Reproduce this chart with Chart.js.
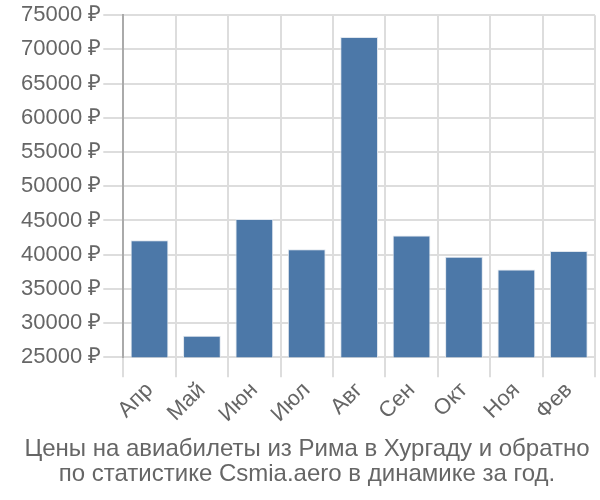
<!DOCTYPE html>
<html>
<head>
<meta charset="utf-8">
<script src="https://cdn.jsdelivr.net/npm/chart.js@4/dist/chart.umd.min.js"></script>
<style>
  html, body { margin: 0; padding: 0; background: #fff; }
  #wrap { width: 600px; height: 500px; }
</style>
</head>
<body>
<div id="wrap"><canvas id="myChart"></canvas></div>
<script>
var months = ["Апр", "Май", "Июн", "Июл", "Авг", "Сен", "Окт", "Ноя", "Фев"];
var prices = [42100, 28150, 45200, 40800, 71800, 42800, 39700, 37850, 40550];
var yTicks = [25000, 30000, 35000, 40000, 45000, 50000, 55000, 60000, 65000, 70000, 75000];
var titleLines = [
  "Цены на авиабилеты из Рима в Хургаду и обратно",
  "по статистике Csmia.aero в динамике за год."
];

(function() {
  "use strict";

  var ctx = document.getElementById("myChart").getContext("2d");
  var grey = "#666666";
  var family = "'Liberation Sans', Arial, sans-serif";
  var tickFont = { family: family, size: 22 };

  new Chart(ctx, {
    type: "bar",
    data: {
      labels: months,
      datasets: [{
        data: prices,
        backgroundColor: "#4c78a8",
        borderColor: "#dfe6ee",
        borderWidth: 1,
        barPercentage: 0.72,
        categoryPercentage: 1
      }]
    },
    options: {
      responsive: true,
      maintainAspectRatio: false,
      animation: false,
      layout: { padding: { top: 4, right: 5, left: 19, bottom: 0 } },
      plugins: {
        legend: { display: false },
        tooltip: { enabled: false },
        title: {
          display: true,
          position: "bottom",
          text: titleLines,
          color: grey,
          font: { family: family, size: 24, weight: "normal", lineHeight: 1.05 },
          padding: { top: 9, bottom: 13 }
        }
      },
      scales: {
        x: {
          offset: true,
          grid: {
            offset: true,
            color: "#dddddd",
            lineWidth: 2,
            tickLength: 20
          },
          border: { color: "#dddddd", width: 2 },
          ticks: {
            color: grey,
            font: tickFont,
            maxRotation: 45,
            minRotation: 45,
            padding: 0
          }
        },
        y: {
          min: 25000,
          max: 75000,
          afterBuildTicks: function(axis) {
            axis.ticks = yTicks.map(function(v) { return { value: v }; });
          },
          grid: {
            color: "#dddddd",
            lineWidth: 2,
            tickLength: 20
          },
          border: { color: "#aaaaaa", width: 2 },
          ticks: {
            color: grey,
            font: tickFont,
            padding: 2,
            callback: function(v) { return v + " ₽"; }
          }
        }
      }
    }
  });
})();
</script>
</body>
</html>
